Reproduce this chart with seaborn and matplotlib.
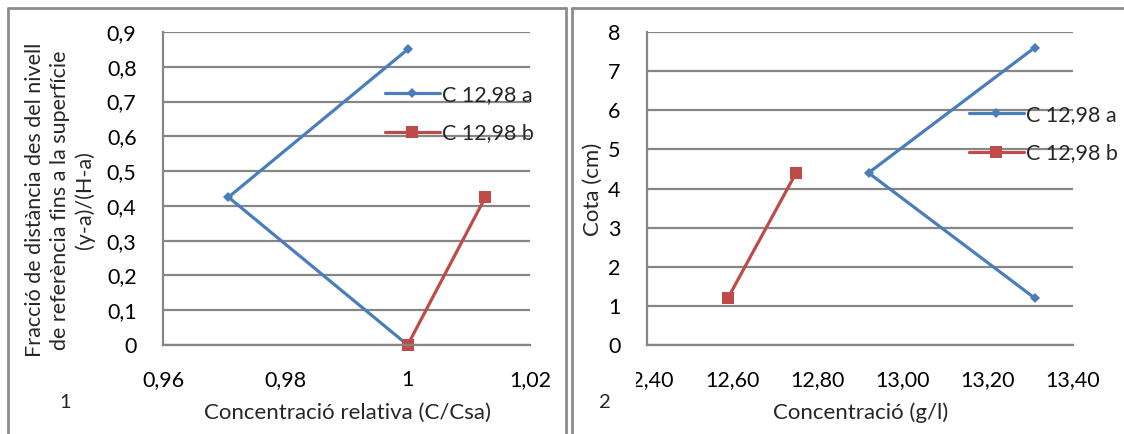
import matplotlib
matplotlib.use("Agg")
import matplotlib.pyplot as plt
from matplotlib.transforms import Bbox
from matplotlib.lines import Line2D
import seaborn as sns
import pandas as pd

# Series data
series_names = ["C 12,98 a", "C 12,98 b"]

# Panel 1: relative concentration vs. fraction of distance
rel_conc_a = [1.0, 0.9707, 1.0]
frac_a = [0.85, 0.425, 0.0]
rel_conc_b = [1.0, 1.0127]
frac_b = [0.0, 0.425]

# Panel 2: concentration (g/l) vs. height (cm)
conc_a = [13.31, 12.92, 13.31]
cota_a = [7.6, 4.4, 1.2]
conc_b = [12.59, 12.75]
cota_b = [1.2, 4.4]

x1_ticks = [0.96, 0.98, 1.0, 1.02]
x1_labels = ["0,96", "0,98", "1", "1,02"]
y1_ticks = [0.0, 0.1, 0.2, 0.3, 0.4, 0.5, 0.6, 0.7, 0.8, 0.9]
y1_labels = ["0", "0,1", "0,2", "0,3", "0,4", "0,5", "0,6", "0,7", "0,8", "0,9"]
x2_ticks = [12.4, 12.6, 12.8, 13.0, 13.2, 13.4]
x2_labels = ["12,40", "12,60", "12,80", "13,00", "13,20", "13,40"]
y2_ticks = [0, 1, 2, 3, 4, 5, 6, 7, 8]
y2_labels = ["0", "1", "2", "3", "4", "5", "6", "7", "8"]

sns.set_theme(style="white")
plt.rcParams["font.family"] = ["Lato", "DejaVu Sans"]

BLUE = "#4A7EBB"
RED = "#BE4B48"
GRID = "#868686"
FRAME = "#8C8C8C"
FS = 15.5

W, H = 1124, 434
fig = plt.figure(figsize=(W / 100, H / 100), dpi=100)
fig.patch.set_facecolor("white")


def px_axes(x0, x1, y0, y1):
    return fig.add_axes([x0 / W, 1 - y1 / H, (x1 - x0) / W, (y1 - y0) / H])


def make_df(xa, ya, xb, yb):
    return pd.DataFrame({
        "x": list(xa) + list(xb),
        "y": list(ya) + list(yb),
        "serie": [series_names[0]] * len(xa) + [series_names[1]] * len(xb),
    })


def style_axes(ax, xt, xl, yt, yl, xlim, ylim):
    ax.set_xlim(*xlim)
    ax.set_ylim(*ylim)
    ax.set_xticks(xt)
    ax.set_xticklabels(xl)
    ax.set_yticks(yt)
    ax.set_yticklabels(yl)
    ax.grid(axis="y", color=GRID, linewidth=1.6)
    ax.grid(axis="x", visible=False)
    ax.set_axisbelow(True)
    for s in ["top", "right"]:
        ax.spines[s].set_visible(False)
    for s in ["left", "bottom"]:
        ax.spines[s].set_color(GRID)
        ax.spines[s].set_linewidth(1.6)
    ax.tick_params(axis="both", which="major", direction="out", length=5,
                   width=1.6, color=GRID, labelsize=FS, labelcolor="black")
    ax.tick_params(axis="x", pad=13)
    ax.tick_params(axis="y", pad=14)
    ax.set_xlabel("")
    ax.set_ylabel("")
    ax.set_facecolor("white")


def draw(ax, df):
    sns.lineplot(data=df, x="x", y="y", hue="serie", style="serie",
                 palette=[BLUE, RED], markers=["D", "s"], dashes=False,
                 sort=False, estimator=None, linewidth=2.3, ax=ax,
                 legend=False, markeredgewidth=0, clip_on=False)
    for line, ms in zip(ax.get_lines(), [5, 9]):
        line.set_markersize(ms)


def add_legend(ax, loc_xy):
    handles = [
        Line2D([], [], color=BLUE, marker="D", markersize=5, linewidth=2.3,
               markeredgewidth=0),
        Line2D([], [], color=RED, marker="s", markersize=9, linewidth=2.3,
               markeredgewidth=0),
    ]
    ax.legend(handles, series_names, loc="center left",
              bbox_to_anchor=loc_xy, bbox_transform=fig.transFigure,
              frameon=False, fontsize=FS, handlelength=2.55,
              handletextpad=0.1, labelspacing=0.85, borderpad=0,
              borderaxespad=0)


# Panel 1
ax1 = px_axes(163, 530, 32, 345)
draw(ax1, make_df(rel_conc_a, frac_a, rel_conc_b, frac_b))
style_axes(ax1, x1_ticks, x1_labels, y1_ticks, y1_labels, (0.96, 1.02), (0, 0.9))
add_legend(ax1, (385 / W, 1 - 114 / H))

# Panel 2
ax2 = px_axes(647, 1073, 32, 345)
draw(ax2, make_df(conc_a, cota_a, conc_b, cota_b))
style_axes(ax2, x2_ticks, x2_labels, y2_ticks, y2_labels, (12.4, 13.4), (0, 8))
add_legend(ax2, (969 / W, 1 - 134 / H))

# The first category label is cut by the panel's plot area edge
clip = Bbox.from_extents(636 / W, 0, 1, 1)
first = ax2.get_xticklabels()[0]
first.set_clip_box(fig.transFigure.transform_bbox(clip))
first.set_clip_on(True)

# Axis titles
fig.text(60 / W, 1 - 200 / H,
         "Fracció de distància des del nivell\nde referència fins a la superfície\n(y-a)/(H-a)",
         rotation=90, ha="center", va="center", multialignment="center",
         fontsize=FS, linespacing=1.3)
fig.text(347 / W, 1 - 413 / H, "Concentració relativa (C/Csa)",
         ha="center", va="center", fontsize=16)
fig.text(593 / W, 1 - 189 / H, "Cota (cm)", rotation=90,
         ha="center", va="center", fontsize=16)
fig.text(861 / W, 1 - 413 / H, "Concentració (g/l)",
         ha="center", va="center", fontsize=16)
fig.text(65 / W, 1 - 403 / H, "1", ha="center", va="center", fontsize=14.5)
fig.text(605 / W, 1 - 402 / H, "2", ha="center", va="center", fontsize=14.5)

# Chart frames
frame_kw = dict(color=FRAME, linewidth=2.0, transform=None)
fig.add_artist(Line2D([8, 8], [0, H - 8], **frame_kw))
fig.add_artist(Line2D([8, 566], [H - 8, H - 8], **frame_kw))
fig.add_artist(Line2D([566, 566], [0, H - 8], **frame_kw))
fig.add_artist(Line2D([572, 572], [0, H - 8], **frame_kw))
fig.add_artist(Line2D([572, W], [H - 8, H - 8], **frame_kw))

fig.savefig("out.png", dpi=100, facecolor="white")
